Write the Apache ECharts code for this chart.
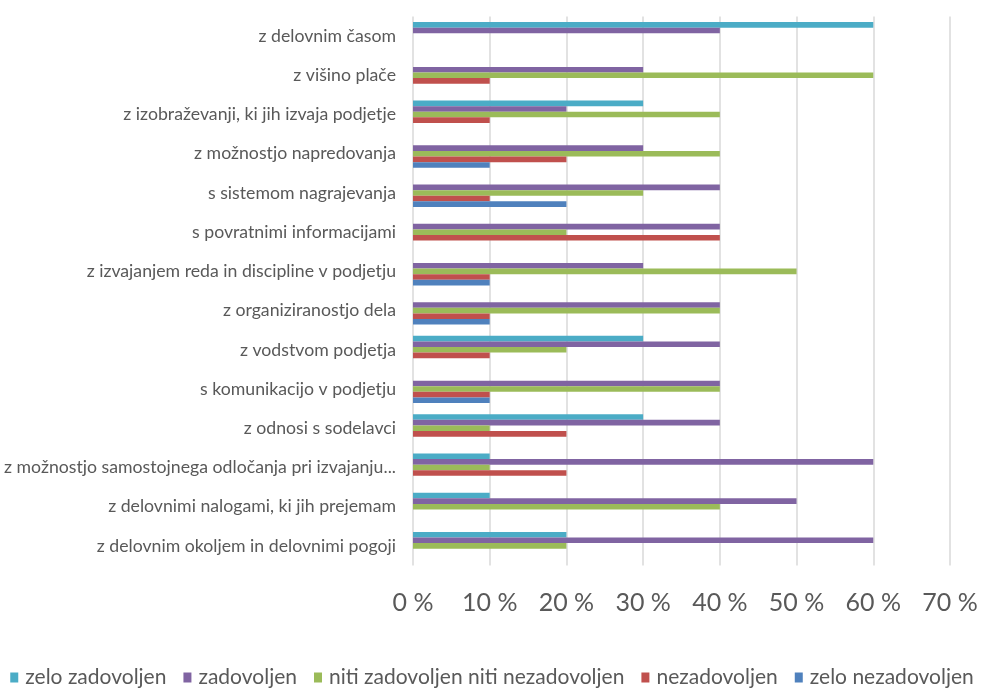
<!DOCTYPE html>
<html>
<head>
<meta charset="utf-8">
<script src="https://cdn.jsdelivr.net/npm/echarts@6/dist/echarts.min.js"></script>
<style>
  html, body { margin: 0; padding: 0; background: #fff; }
  #chart { width: 984px; height: 688px; }
</style>
</head>
<body>
<div id="chart"></div>
<script>
// Satisfaction items, listed top to bottom
const categories = [
  'z delovnim časom',
  'z višino plače',
  'z izobraževanji, ki jih izvaja podjetje',
  'z možnostjo napredovanja',
  's sistemom nagrajevanja',
  's povratnimi informacijami',
  'z izvajanjem reda in discipline v podjetju',
  'z organiziranostjo dela',
  'z vodstvom podjetja',
  's komunikacijo v podjetju',
  'z odnosi s sodelavci',
  'z možnostjo samostojnega odločanja pri izvajanju...',
  'z delovnimi nalogami, ki jih prejemam',
  'z delovnim okoljem in delovnimi pogoji'
];

const seriesNames = [
  'zelo zadovoljen',
  'zadovoljen',
  'niti zadovoljen niti nezadovoljen',
  'nezadovoljen',
  'zelo nezadovoljen'
];

// Shares in percent, one value per item above
const zeloZadovoljen   = [60, 0, 30, 0, 0, 0, 0, 0, 30, 0, 30, 10, 10, 20];
const zadovoljen       = [40, 30, 20, 30, 40, 40, 30, 40, 40, 40, 40, 60, 50, 60];
const niti             = [0, 60, 40, 40, 30, 20, 50, 40, 20, 40, 10, 10, 40, 20];
const nezadovoljen     = [0, 10, 10, 20, 10, 40, 10, 10, 10, 10, 20, 20, 0, 0];
const zeloNezadovoljen = [0, 0, 0, 10, 20, 0, 10, 10, 0, 10, 0, 0, 0, 0];

const xTicks = [0, 10, 20, 30, 40, 50, 60, 70];

const colors = ['#4BACC6', '#8064A2', '#9BBB59', '#C0504D', '#4F81BD'];
const values = [zeloZadovoljen, zadovoljen, niti, nezadovoljen, zeloNezadovoljen];

const FONT = 'Lato, "Open Sans", sans-serif';

const chart = echarts.init(document.getElementById('chart'), null, { renderer: 'canvas' });

chart.setOption({
  animation: false,
  color: colors,
  textStyle: { fontFamily: FONT },
  grid: { left: 413, right: 34, top: 16.5, bottom: 122.5, containLabel: false },
  legend: {
    data: seriesNames,
    top: 667,
    left: 'center',
    padding: 0,
    itemWidth: 8,
    itemHeight: 10,
    itemGap: 17,
    icon: 'rect',
    textStyle: { fontFamily: FONT, fontSize: 21, color: '#595959', padding: [0, 0, 0, 2] }
  },
  xAxis: {
    type: 'value',
    min: xTicks[0],
    max: xTicks[xTicks.length - 1],
    interval: 10,
    axisLine: { show: false },
    axisTick: { show: false },
    splitLine: { lineStyle: { color: '#D9D9D9', width: 1.5 } },
    axisLabel: {
      formatter: v => v + ' %',
      fontFamily: FONT,
      fontSize: 25,
      color: '#595959',
      margin: 25
    }
  },
  yAxis: {
    type: 'category',
    data: categories,
    inverse: true,
    axisLine: { show: false },
    axisTick: { show: false },
    axisLabel: {
      fontFamily: FONT,
      fontSize: 17.7,
      color: '#595959',
      margin: 17
    }
  },
  series: seriesNames.map((name, i) => ({
    name,
    type: 'bar',
    data: values[i],
    barWidth: 5.6,
    barGap: '0%',
    itemStyle: { color: colors[i] }
  }))
});
</script>
</body>
</html>
